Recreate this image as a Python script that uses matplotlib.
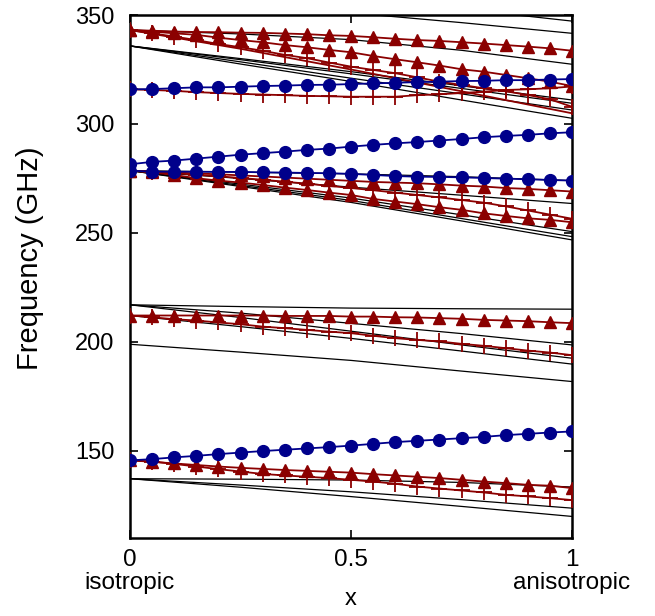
import matplotlib
matplotlib.use("Agg")
import matplotlib.pyplot as plt
import numpy as np

plt.rcParams['font.family'] = ['Liberation Sans', 'DejaVu Sans']

# ---- data ----
x_m = [0.0, 0.05, 0.1, 0.15, 0.2, 0.25, 0.3, 0.35, 0.4, 0.45, 0.5,
       0.55, 0.6, 0.65, 0.7, 0.75, 0.8, 0.85, 0.9, 0.95, 1.0]
x_b = [0.0, 0.25, 0.5, 0.75, 1.0]

# black (unmarked) branches, values at x_b
black_low = [
    [137.2, 137.0, 136.6, 135.5, 133.4],
    [137.2, 134.3, 131.2, 127.6, 123.7],
    [137.2, 133.3, 129.0, 124.5, 119.9],
]
black_200 = [
    [217.0, 216.2, 215.5, 215.2, 215.0],
    [217.0, 213.2, 208.5, 203.8, 198.6],
    [217.0, 211.2, 204.9, 198.6, 192.5],
    [212.1, 207.0, 201.6, 195.8, 189.8],
    [198.9, 195.3, 191.5, 186.6, 181.8],
]
black_280 = [
    [278.6, 277.9, 277.1, 275.8, 274.0],
    [278.6, 275.0, 271.0, 267.3, 263.5],
    [278.6, 272.4, 266.0, 258.3, 250.6],
    [278.6, 271.8, 264.9, 256.6, 248.3],
    [278.6, 271.3, 264.0, 255.5, 246.8],
]
black_top = [
    [343.1, 341.3, 338.7, 333.8, 327.4],
    [335.8, 330.0, 324.0, 317.5, 311.0],
    [335.8, 329.5, 323.0, 316.3, 309.5],
    [335.8, 328.5, 321.0, 313.8, 306.4],
    [335.8, 327.5, 319.5, 311.0, 302.6],
    [361.0, 356.0, 351.0, 346.5, 341.6],
    [369.6, 364.0, 358.0, 352.8, 347.2],
]
red_plain_top = [343.1, 334.5, 325.0, 315.0, 304.9]

# blue circle branches
blue_low = [145.6, 146.2, 147.0, 147.7, 148.5, 149.2, 149.9, 150.5, 151.1, 151.7, 152.4,
            153.2, 154.0, 154.6, 155.2, 155.8, 156.4, 157.2, 157.8, 158.4, 158.9]
blue_280a = [281.5, 282.6, 283.2, 284.1, 285.0, 285.9, 286.6, 287.3, 288.1, 288.7, 289.6,
             290.4, 291.1, 291.7, 292.4, 293.1, 293.9, 294.5, 295.0, 295.7, 296.2]
blue_280b = [278.6, 278.1, 278.1, 278.1, 278.0, 278.0, 277.8, 277.7, 277.5, 277.4, 277.1,
             276.6, 276.1, 275.8, 275.7, 275.5, 275.2, 274.9, 274.6, 274.3, 274.0]
blue_top = [315.9, 316.0, 316.4, 316.8, 316.8, 317.1, 317.4, 317.6, 317.9, 318.0, 318.3,
            318.6, 318.9, 319.2, 319.4, 319.7, 319.8, 320.1, 320.1, 320.4, 320.6]

# red triangle branches
tri_low = [145.6, 145.0, 144.2, 143.5, 142.8, 142.2, 141.7, 141.2, 140.8, 140.4, 140.0,
           139.3, 138.7, 138.1, 137.5, 136.7, 135.9, 135.2, 134.4, 134.0, 132.9]
tri_200 = [212.1, 212.1, 212.1, 212.1, 212.1, 212.1, 212.1, 211.9, 211.9, 211.9, 211.6,
           211.6, 211.3, 211.2, 210.9, 210.6, 210.1, 209.8, 209.5, 209.0, 208.6]
tri_280a = [278.6, 278.2, 277.8, 277.3, 276.9, 276.4, 275.9, 275.4, 274.9, 274.4, 273.9,
            273.4, 273.1, 272.8, 272.3, 271.7, 271.3, 270.6, 270.2, 269.6, 269.0]
tri_280b = [278.6, 277.8, 276.6, 275.1, 274.0, 273.1, 272.0, 270.8, 269.7, 268.5, 267.4,
            265.6, 264.4, 263.2, 261.8, 260.6, 259.0, 257.8, 256.7, 256.0, 254.9]
tri_topa = [343.1, 342.8, 342.4, 342.2, 342.1, 341.9, 341.8, 341.5, 341.2, 340.7, 340.4,
            339.8, 339.1, 338.5, 338.1, 337.5, 336.9, 336.2, 335.5, 334.7, 333.6]
tri_topb = [343.1, 342.4, 341.6, 340.9, 339.6, 338.5, 337.5, 336.2, 335.2, 334.0, 332.9,
            331.2, 329.7, 328.3, 326.8, 325.1, 324.0, 322.5, 321.0, 319.4, 317.4]

# red plus branches
plus_low = [145.6, 145.1, 144.0, 142.8, 141.6, 140.5, 139.4, 138.7, 138.1, 137.5, 136.7,
            135.9, 134.9, 133.6, 132.7, 131.8, 130.9, 129.8, 129.1, 128.3, 127.4]
plus_200 = [212.1, 211.3, 210.4, 209.8, 208.9, 208.1, 207.0, 206.3, 205.5, 204.7, 204.0,
            202.8, 201.7, 200.9, 200.2, 199.1, 198.2, 197.1, 196.0, 195.1, 193.9]
plus_280 = [278.6, 278.0, 277.4, 276.7, 276.0, 275.2, 274.4, 273.5, 272.6, 271.6, 270.6,
            269.6, 268.5, 267.4, 266.3, 265.1, 263.9, 262.2, 260.3, 258.4, 256.5]
plus_topa = [343.1, 341.6, 340.1, 338.5, 336.7, 335.2, 333.6, 331.7, 330.2, 328.2, 326.3,
             324.8, 323.3, 321.4, 319.4, 317.9, 316.4, 315.0, 313.3, 311.3, 307.9]
plus_topb = [315.9, 315.6, 315.2, 314.6, 314.2, 313.8, 313.5, 313.2, 312.9, 312.7, 312.5,
             312.5, 312.5, 313.2, 313.6, 314.2, 314.8, 315.6, 315.9, 316.4, 317.2]

xtick_vals = [0, 0.5, 1]
xtick_labels = ["0\nisotropic", "0.5", "1\nanisotropic"]
ytick_vals = [150, 200, 250, 300, 350]

# ---- plot ----
RED = '#8b0000'
BLUE = '#00008b'

fig = plt.figure(figsize=(6.55, 6.16), dpi=100)
ax = fig.add_axes([130/655, (616-538)/616, 442/655, 523/616])

for grp in (black_low, black_200, black_280, black_top):
    for ys in grp:
        ax.plot(x_b, ys, color='black', lw=0.9, zorder=2)

ax.plot(x_b, red_plain_top, color=RED, lw=1.3, zorder=3)

for ys in (tri_low, tri_200, tri_280a, tri_280b, tri_topa, tri_topb):
    ax.plot(x_m, ys, color=RED, lw=1.3, marker='^', ms=8.5, mec=RED, mfc=RED, zorder=4)
for ys in (plus_low, plus_200, plus_280, plus_topa, plus_topb):
    ax.plot(x_m, ys, color=RED, lw=1.3, marker='+', ms=11, mew=1.3, zorder=4)
for ys in (blue_low, blue_280a, blue_280b, blue_top):
    ax.plot(x_m, ys, color=BLUE, lw=1.3, marker='o', ms=8.5, mec=BLUE, mfc=BLUE, zorder=5)

ax.set_xlim(0, 1)
ax.set_ylim(110, 350)
ax.set_xticks(xtick_vals)
ax.set_xticklabels(xtick_labels, fontsize=17.5)
for lbl in ax.get_xticklabels():
    lbl.set_linespacing(1.08)
ax.set_yticks(ytick_vals)
ax.set_yticklabels([str(v) for v in ytick_vals], fontsize=17)
ax.tick_params(direction='in', length=6, width=1.2, top=True, right=True)
ax.tick_params(axis='y', pad=11)
ax.tick_params(axis='x', pad=8)
for sp in ax.spines.values():
    sp.set_linewidth(1.8)

ax.set_ylabel("Frequency (GHz)", fontsize=21)
ax.yaxis.set_label_coords(-0.226, 0.535)
ax.yaxis.label.set_va('center')
ax.set_xlabel("x", fontsize=17)
ax.xaxis.set_label_coords(0.5, -0.117)
ax.xaxis.label.set_va('center')

fig.savefig("out.png", dpi=100)
